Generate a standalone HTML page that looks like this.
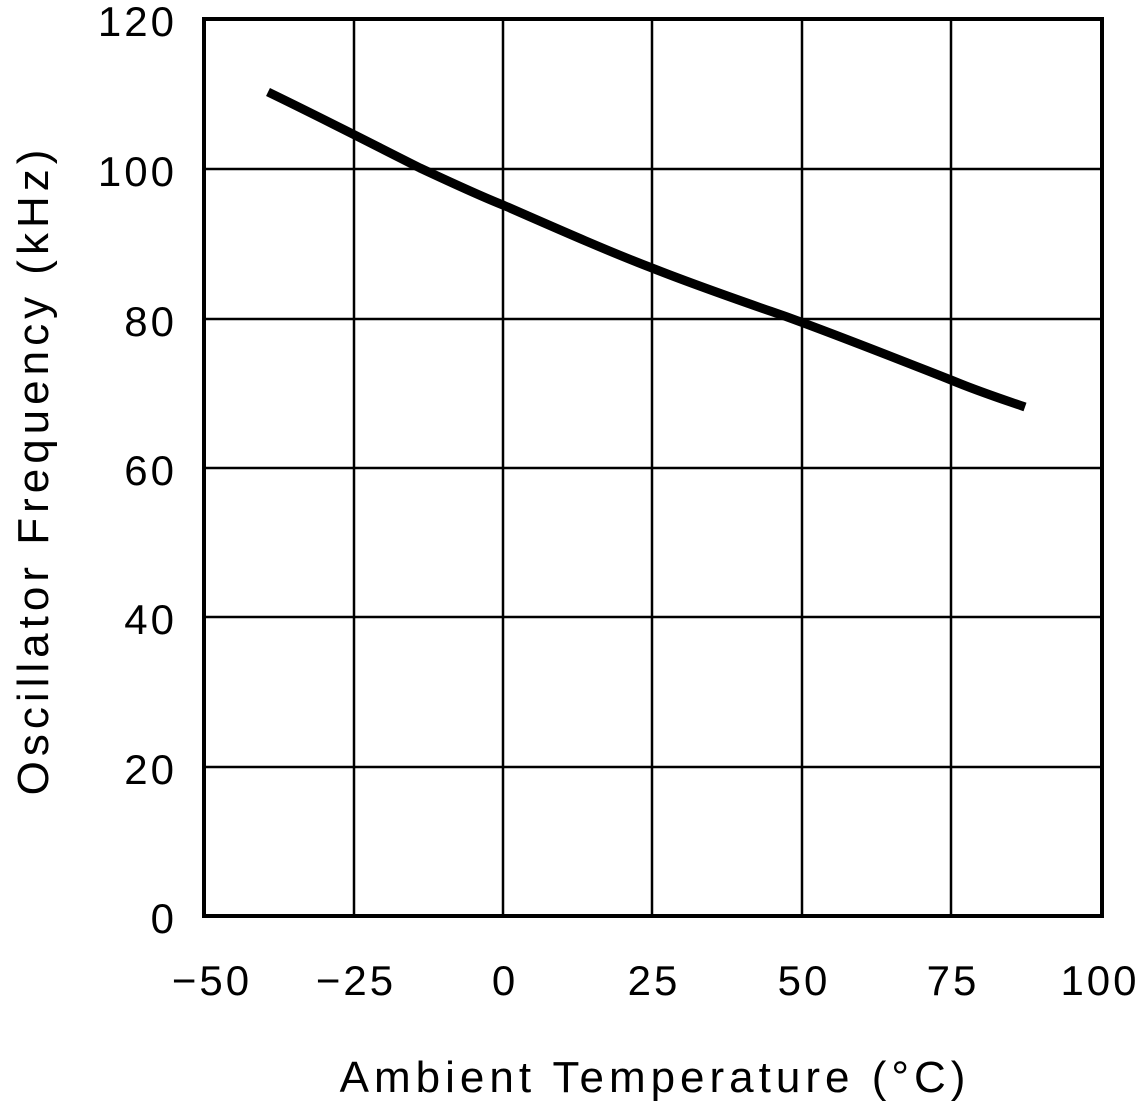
<!DOCTYPE html>
<html><head><style>
html,body{margin:0;padding:0;background:#fff;}
svg{display:block;}
text{font-family:"Liberation Sans",sans-serif;font-size:42px;fill:#000;letter-spacing:3px;}
.t{font-size:44px;letter-spacing:5px;}
</style></head><body>
<svg width="1139" height="1104" viewBox="0 0 1139 1104" xmlns="http://www.w3.org/2000/svg">
<g stroke="#000" stroke-width="2.5" fill="none">
<line x1="354" y1="19" x2="354" y2="916"/>
<line x1="503" y1="19" x2="503" y2="916"/>
<line x1="652" y1="19" x2="652" y2="916"/>
<line x1="802" y1="19" x2="802" y2="916"/>
<line x1="951" y1="19" x2="951" y2="916"/>
<line x1="204" y1="169" x2="1102" y2="169"/>
<line x1="204" y1="319" x2="1102" y2="319"/>
<line x1="204" y1="468" x2="1102" y2="468"/>
<line x1="204" y1="617" x2="1102" y2="617"/>
<line x1="204" y1="767" x2="1102" y2="767"/>
<rect x="204" y="19" width="898" height="897" stroke-width="4"/>
</g>
<path d="M268,92 C330,122 380,148 420,168 C450,182 480,196 503,205 C560,230 610,252 652,268 C700,287 750,304 790,318 C850,340 900,360 951,380 C980,392 1005,400 1025,407" stroke="#000" stroke-width="9" fill="none"/>
<g text-anchor="end">
<text x="177" y="36">120</text>
<text x="177" y="186">100</text>
<text x="177" y="336">80</text>
<text x="177" y="485">60</text>
<text x="177" y="634">40</text>
<text x="177" y="784">20</text>
<text x="177" y="933">0</text>
</g>
<g text-anchor="middle">
<text x="212" y="995">−50</text>
<text x="356" y="995">−25</text>
<text x="505" y="995">0</text>
<text x="654" y="995">25</text>
<text x="804" y="995">50</text>
<text x="953" y="995">75</text>
<text x="1100" y="995">100</text>
<text class="t" x="655" y="1092">Ambient Temperature (°C)</text>
<text class="t" transform="translate(48,470) rotate(-90)">Oscillator Frequency (kHz)</text>
</g>
</svg>
</body></html>
